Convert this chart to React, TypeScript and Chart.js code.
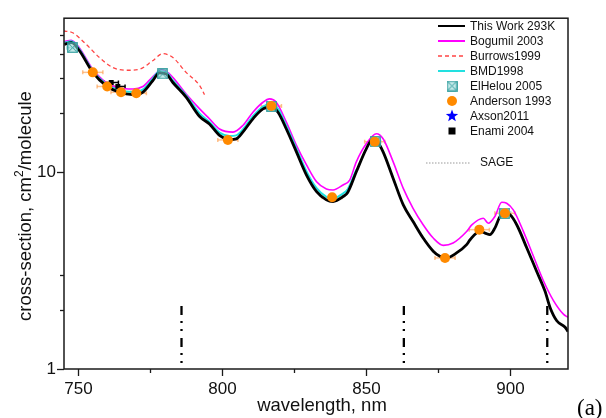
import React, { useEffect, useRef } from 'react';
import { Chart, registerables } from 'chart.js';

Chart.register(...registerables);

const SANS = '"Liberation Sans", Arial, Helvetica, sans-serif';
const SERIF = '"Liberation Serif", "Times New Roman", serif';

// ---- axes ----
const xMin = 745;
const xMax = 920;
const yMin = 1;
const yMax = 60.7;
const xTicks = [750, 775, 800, 825, 850, 875, 900];
const xTickLabels = ['750', '', '800', '', '850', '', '900'];
const yTicks = [1, 2, 3, 10, 20, 30, 40, 50];
const yTickLabels = ['1', '', '', '10', '', '', '', ''];

// ---- This Work 293K ----
const thisWorkX = [745.1, 747.6, 750.3, 755.0, 759.6, 764.3, 768.8, 772.3, 775.8, 778.1, 780.5, 782.8, 787.4, 792.1, 795.5, 799.0, 802.5, 804.8, 807.1, 810.6, 814.1, 817.0, 819.3, 822.2, 825.7, 829.2, 832.7, 836.1, 838.4, 841.9, 843.5, 846.5, 850.0, 852.3, 853.5, 855.8, 859.3, 862.8, 866.2, 869.7, 873.2, 875.5, 877.8, 881.3, 884.8, 886.0, 889.4, 891.2, 892.9, 894.6, 896.4, 898.1, 899.9, 902.2, 905.7, 909.1, 912.0, 913.8, 916.1, 919.0, 920.0];
const thisWorkY = [44.7, 45.6, 41.6, 32.2, 27.6, 25.5, 24.8, 25.5, 29.2, 32.0, 31.6, 28.6, 24.1, 19.2, 17.6, 15.4, 14.7, 14.8, 16.0, 18.7, 21.0, 21.4, 20.2, 16.6, 12.7, 9.68, 7.97, 7.24, 7.10, 7.52, 7.9, 10.06, 13.2, 14.8, 14.5, 12.7, 9.30, 6.83, 5.62, 4.63, 3.97, 3.74, 3.67, 3.89, 4.29, 4.54, 5.01, 4.91, 4.82, 5.20, 5.96, 6.19, 6.08, 5.41, 4.12, 3.14, 2.49, 2.05, 1.76, 1.63, 1.55];

// ---- Bogumil 2003 ----
const bogumilX = [745.1, 747.5, 750.3, 755.0, 759.6, 764.3, 768.9, 772.4, 775.8, 778.8, 781.6, 787.4, 792.1, 795.5, 799.0, 803.7, 807.1, 810.6, 814.1, 816.4, 818.7, 822.2, 825.7, 829.2, 832.7, 836.1, 838.4, 841.9, 844.2, 846.5, 850.0, 853.5, 855.8, 859.3, 862.8, 866.2, 869.7, 873.2, 876.7, 880.1, 884.8, 886.6, 890.6, 892.3, 894.6, 897.0, 898.7, 901.0, 904.5, 908.0, 911.5, 915.0, 918.4, 920.0];
const bogumilY = [46.2, 46.9, 43.0, 33.4, 28.6, 26.8, 26.5, 27.3, 30.6, 33.2, 31.6, 25.0, 21.0, 18.7, 16.6, 16.0, 17.3, 20.2, 22.7, 23.6, 22.7, 18.0, 13.7, 10.9, 8.95, 8.23, 8.13, 8.62, 9.13, 11.3, 14.0, 15.7, 14.8, 11.3, 8.28, 6.56, 5.41, 4.63, 4.25, 4.37, 5.0, 5.4, 5.84, 5.51, 5.96, 7.04, 6.96, 6.44, 5.01, 3.74, 2.80, 2.22, 1.90, 1.83];

// ---- Burrows1999 ----
const burrowsX = [744.8, 748.0, 752.7, 757.3, 761.9, 766.6, 771.2, 775.8, 779.3, 782.8, 787.4, 792.1, 793.8];
const burrowsY = [52.3, 51.2, 44.7, 38.3, 34.1, 33.0, 33.4, 36.9, 40.1, 38.3, 32.2, 27.6, 24.8];

// ---- BMD1998 ----
const bmdX = [745.1, 747.6, 750.3, 755.0, 759.6, 764.3, 768.8, 772.3, 775.8, 778.1, 780.5, 782.8, 787.4, 792.1, 795.5, 799.0, 802.5, 804.8, 807.1, 810.6, 814.1, 817.0, 819.3, 822.2, 825.7, 829.2, 832.7, 836.1, 838.4, 841.9, 843.5, 846.5];
const bmdY = [45.5, 46.3, 42.3, 32.8, 28.1, 26.1, 25.6, 26.3, 29.9, 32.6, 32.2, 29.3, 24.6, 19.9, 18.0, 15.9, 15.3, 15.4, 16.5, 19.3, 21.6, 22.2, 21.0, 17.2, 13.2, 10.1, 8.3, 7.5, 7.35, 7.8, 8.2, 10.3];

// ---- ElHelou 2005 ----
const elHelouX = [748.0, 779.3, 817.0, 853.0, 898.1];
const elHelouY = [43.0, 31.6, 21.7, 14.3, 6.2];
const elHelouErr = [2, 2, 2, 2, 2];

// ---- Anderson 1993 ----
const andersonX = [755.0, 760.0, 764.8, 770.1, 801.9, 817.0, 838.1, 852.9, 877.3, 889.2, 898.1];
const andersonY = [32.2, 27.3, 25.5, 25.2, 14.6, 21.7, 7.46, 14.3, 3.67, 5.11, 6.19];
const andersonErr = [3.5, 3.5, 3.5, 3.5, 3.5, 3.5, 3.5, 3.5, 3.5, 3.5, 3.5];

// ---- Axson2011 (legend only) ----
const axsonX: number[] = [];
const axsonY: number[] = [];

// ---- Enami 2004 ----
const enamiX = [761.4, 763.7];
const enamiY = [28.6, 27.3];
const enamiErr = [2.5, 2.5];

// ---- SAGE channels ----
const sageX = [785.8, 863.0, 912.8];
const sageTop = 2.09;
const sageBottom = 1.0;

const pts = (xs: number[], ys: number[]) => xs.map((x, i) => ({ x, y: ys[i] }));

function makeBoxX(size: number) {
  const c = document.createElement('canvas');
  c.width = size;
  c.height = size;
  const g = c.getContext('2d')!;
  g.fillStyle = 'rgba(150,215,215,0.55)';
  g.fillRect(0.5, 0.5, size - 1, size - 1);
  g.strokeStyle = '#2a9a9a';
  g.lineWidth = 1.2;
  g.strokeRect(0.75, 0.75, size - 1.5, size - 1.5);
  g.lineWidth = 1;
  g.beginPath();
  g.moveTo(1.5, 1.5);
  g.lineTo(size - 1.5, size - 1.5);
  g.moveTo(size - 1.5, 1.5);
  g.lineTo(1.5, size - 1.5);
  g.stroke();
  return c;
}

function drawStar(ctx: CanvasRenderingContext2D, cx: number, cy: number, r: number) {
  ctx.beginPath();
  for (let i = 0; i < 10; i++) {
    const rr = i % 2 === 0 ? r : r * 0.42;
    const a = -Math.PI / 2 + (i * Math.PI) / 5;
    const px = cx + rr * Math.cos(a);
    const py = cy + rr * Math.sin(a);
    if (i === 0) ctx.moveTo(px, py);
    else ctx.lineTo(px, py);
  }
  ctx.closePath();
  ctx.fill();
}

const decor = {
  id: 'decor',
  beforeDatasetsDraw(chart: any) {
    const { ctx, scales } = chart;
    const xs = scales.x;
    const ys = scales.y;
    ctx.save();
    chart.data.datasets.forEach((ds: any) => {
      if (!ds.xErr) return;
      ctx.strokeStyle = ds.errColor;
      ctx.lineWidth = ds.errWidth;
      ds.data.forEach((p: any, i: number) => {
        const e = ds.xErr[i];
        const py = ys.getPixelForValue(p.y);
        const x0 = xs.getPixelForValue(p.x - e);
        const x1 = xs.getPixelForValue(p.x + e);
        ctx.beginPath();
        ctx.moveTo(x0, py);
        ctx.lineTo(x1, py);
        ctx.stroke();
        ctx.beginPath();
        ctx.moveTo(x0, py - 2);
        ctx.lineTo(x0, py + 2);
        ctx.moveTo(x1, py - 2);
        ctx.lineTo(x1, py + 2);
        ctx.stroke();
      });
    });
    ctx.restore();
  },
  afterDraw(chart: any) {
    const { ctx, chartArea: a, scales } = chart;
    const xs = scales.x;
    const ys = scales.y;
    ctx.save();
    // frame
    ctx.strokeStyle = '#1a1a1a';
    ctx.lineWidth = 1.5;
    ctx.strokeRect(a.left, a.top, a.right - a.left, a.bottom - a.top);
    // tick marks
    ctx.lineWidth = 1.3;
    xTicks.forEach((v, i) => {
      const px = Math.round(xs.getPixelForValue(v)) + 0.5;
      const len = xTickLabels[i] ? 7 : 4;
      ctx.beginPath();
      ctx.moveTo(px, a.bottom);
      ctx.lineTo(px, a.bottom + len);
      ctx.stroke();
    });
    yTicks.forEach((v, i) => {
      const py = Math.round(ys.getPixelForValue(v)) + 0.5;
      const len = yTickLabels[i] ? 7 : 4;
      ctx.beginPath();
      ctx.moveTo(a.left, py);
      ctx.lineTo(a.left - len, py);
      ctx.stroke();
    });

    // axis titles
    ctx.fillStyle = '#111';
    ctx.font = `18.5px ${SANS}`;
    ctx.textAlign = 'center';
    ctx.textBaseline = 'alphabetic';
    ctx.fillText('wavelength, nm', 322, 411);

    ctx.save();
    ctx.translate(31, 206);
    ctx.rotate(-Math.PI / 2);
    ctx.textAlign = 'left';
    const p1 = 'cross-section, cm';
    const p2 = '2';
    const p3 = '/molecule';
    ctx.font = `18.5px ${SANS}`;
    const w1 = ctx.measureText(p1).width;
    const w3 = ctx.measureText(p3).width;
    ctx.font = `12px ${SANS}`;
    const w2 = ctx.measureText(p2).width;
    const start = -(w1 + w2 + w3) / 2;
    ctx.font = `18.5px ${SANS}`;
    ctx.fillText(p1, start, 0);
    ctx.font = `12px ${SANS}`;
    ctx.fillText(p2, start + w1, -8);
    ctx.font = `18.5px ${SANS}`;
    ctx.fillText(p3, start + w1 + w2, 0);
    ctx.restore();

    // (a)
    ctx.font = `23px ${SERIF}`;
    ctx.textAlign = 'left';
    ctx.fillStyle = '#000';
    ctx.fillText('(a)', 577, 415);

    // legend
    ctx.font = `12px ${SANS}`;
    ctx.textBaseline = 'middle';
    ctx.textAlign = 'left';
    const legendItems = chart.data.datasets.filter((d: any) => d.legendKind);
    legendItems.forEach((d: any, i: number) => {
      const yy = 26 + i * 15;
      const cx = 452;
      ctx.save();
      if (d.legendKind === 'line') {
        ctx.strokeStyle = d.borderColor;
        ctx.lineWidth = d.legendWidth;
        ctx.setLineDash(d.borderDash || []);
        ctx.beginPath();
        ctx.moveTo(438, yy);
        ctx.lineTo(465, yy);
        ctx.stroke();
      } else if (d.legendKind === 'boxx') {
        ctx.drawImage(d.pointStyle, cx - d.pointStyle.width / 2, yy - d.pointStyle.height / 2);
      } else if (d.legendKind === 'circle') {
        ctx.fillStyle = d.backgroundColor;
        ctx.beginPath();
        ctx.arc(cx, yy, 5, 0, Math.PI * 2);
        ctx.fill();
      } else if (d.legendKind === 'star') {
        ctx.fillStyle = d.backgroundColor;
        drawStar(ctx, cx, yy, 6.5);
      } else if (d.legendKind === 'square') {
        ctx.fillStyle = d.backgroundColor;
        ctx.fillRect(cx - 3.5, yy - 3.5, 7, 7);
      }
      ctx.restore();
      ctx.fillStyle = '#111';
      ctx.fillText(d.label, 470, yy + 0.5);
    });
    // SAGE legend entry
    ctx.strokeStyle = '#999';
    ctx.lineWidth = 1;
    ctx.setLineDash([1.5, 1.5]);
    ctx.beginPath();
    ctx.moveTo(426, 163);
    ctx.lineTo(470, 163);
    ctx.stroke();
    ctx.setLineDash([]);
    ctx.fillStyle = '#111';
    ctx.fillText('SAGE', 480, 162.5);
    ctx.restore();
  },
};

export default function App() {
  const ref = useRef<HTMLCanvasElement>(null);
  useEffect(() => {
    const canvas = ref.current!;
    const boxX = makeBoxX(11);
    const sageData: any[] = [];
    sageX.forEach((x) => {
      sageData.push({ x, y: sageTop }, { x, y: sageBottom }, { x, y: NaN });
    });
    const chart = new Chart(canvas, {
      type: 'line',
      data: {
        datasets: [
          {
            label: 'This Work 293K', legendKind: 'line', legendWidth: 2,
            data: pts(thisWorkX, thisWorkY), borderColor: '#000000', borderWidth: 2.8,
            pointRadius: 0, cubicInterpolationMode: 'monotone', order: 3,
          } as any,
          {
            label: 'Bogumil 2003', legendKind: 'line', legendWidth: 2,
            data: pts(bogumilX, bogumilY), borderColor: '#ff00ff', borderWidth: 1.6,
            pointRadius: 0, cubicInterpolationMode: 'monotone', order: 5,
          },
          {
            label: 'Burrows1999', legendKind: 'line', legendWidth: 1.3,
            data: pts(burrowsX, burrowsY), borderColor: '#ff4444', borderWidth: 1.3,
            borderDash: [4, 3], pointRadius: 0, cubicInterpolationMode: 'monotone', order: 6,
          },
          {
            label: 'BMD1998', legendKind: 'line', legendWidth: 2,
            data: pts(bmdX, bmdY), borderColor: '#22e0e0', borderWidth: 2,
            pointRadius: 0, cubicInterpolationMode: 'monotone', order: 4,
          },
          {
            label: 'ElHelou 2005', legendKind: 'boxx',
            data: pts(elHelouX, elHelouY), showLine: false, pointStyle: boxX,
            pointRadius: 5.5, xErr: elHelouErr, errColor: 'rgba(120,200,200,0.6)', errWidth: 1.5, order: 1,
          },
          {
            label: 'Anderson 1993', legendKind: 'circle',
            data: pts(andersonX, andersonY), showLine: false, pointStyle: 'circle',
            pointRadius: 5, backgroundColor: '#ff8a00', borderColor: '#ff8a00', borderWidth: 0,
            xErr: andersonErr, errColor: 'rgba(255,160,80,0.65)', errWidth: 1.5, order: 0,
          },
          {
            label: 'Axson2011', legendKind: 'star',
            data: pts(axsonX, axsonY), showLine: false, pointStyle: 'star',
            pointRadius: 6, backgroundColor: '#0000ff', borderColor: '#0000ff', order: 0,
          },
          {
            label: 'Enami 2004', legendKind: 'square',
            data: pts(enamiX, enamiY), showLine: false, pointStyle: 'rect',
            pointRadius: 3.5, backgroundColor: '#000000', borderColor: '#000000', borderWidth: 0,
            xErr: enamiErr, errColor: '#000000', errWidth: 1.5, order: 2,
          },
          {
            label: 'SAGE', data: sageData, borderColor: '#000000', borderWidth: 2.3,
            borderDash: [9, 6, 2, 6, 2, 7], pointRadius: 0, spanGaps: false, order: 7,
          },
        ] as any,
      },
      options: {
        responsive: false,
        devicePixelRatio: 1,
        animation: false,
        events: [],
        layout: { padding: { left: 0, top: 15, right: 38, bottom: 0 } },
        plugins: { legend: { display: false }, tooltip: { enabled: false } },
        scales: {
          x: {
            type: 'linear', min: xMin, max: xMax,
            grid: { display: false, drawTicks: false },
            border: { display: false },
            afterBuildTicks: (s: any) => { s.ticks = xTicks.map((v) => ({ value: v })); },
            afterFit: (s: any) => { s.height = 49; },
            ticks: {
              autoSkip: false, maxRotation: 0, padding: 10, color: '#111',
              font: { family: SANS, size: 17 },
              callback: (_v: any, i: number) => xTickLabels[i],
            },
          },
          y: {
            type: 'logarithmic', min: yMin, max: yMax,
            grid: { display: false, drawTicks: false },
            border: { display: false },
            afterBuildTicks: (s: any) => { s.ticks = yTicks.map((v) => ({ value: v })); },
            afterFit: (s: any) => { s.width = 64; },
            ticks: {
              autoSkip: false, padding: 8, color: '#111',
              font: { family: SANS, size: 17 },
              callback: (_v: any, i: number) => yTickLabels[i],
            },
          },
        },
      } as any,
      plugins: [decor],
    });
    return () => chart.destroy();
  }, []);
  return (
    <div style={{ position: 'absolute', left: 0, top: 0, width: 606, height: 418, background: '#fff' }}>
      <canvas ref={ref} width={606} height={418} style={{ display: 'block' }} />
    </div>
  );
}
